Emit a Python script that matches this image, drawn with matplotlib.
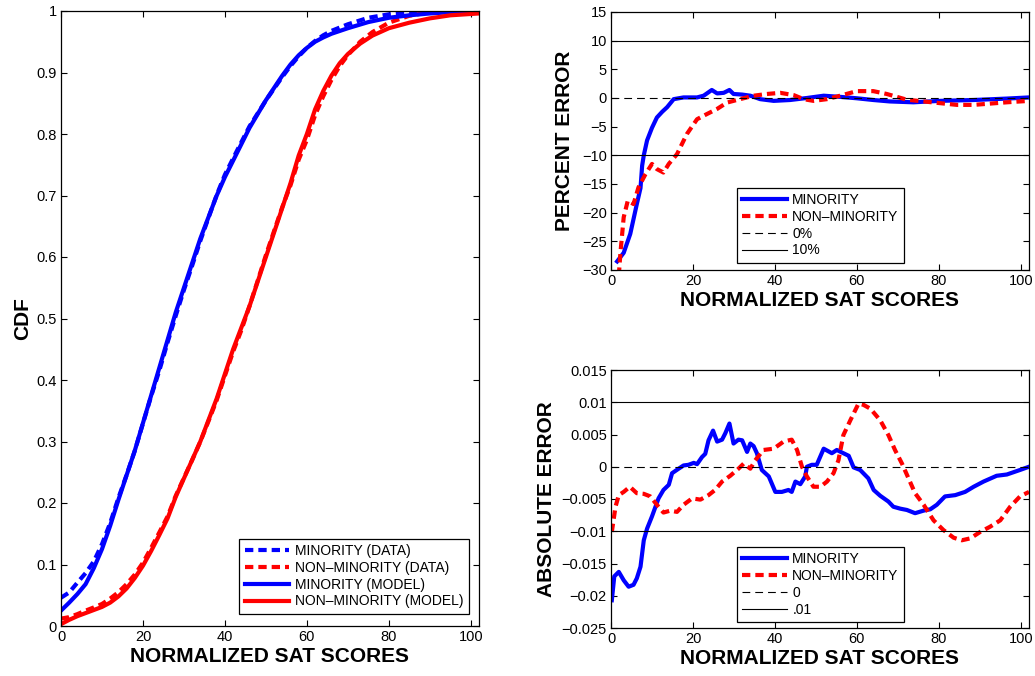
import matplotlib
matplotlib.use('Agg')
import matplotlib.pyplot as plt
from matplotlib.ticker import FuncFormatter

plt.rcParams['font.family'] = ['Liberation Sans', 'DejaVu Sans']
plt.rcParams['xtick.direction'] = 'in'
plt.rcParams['ytick.direction'] = 'in'
plt.rcParams['xtick.top'] = True
plt.rcParams['ytick.right'] = True
plt.rcParams['xtick.major.size'] = 4
plt.rcParams['ytick.major.size'] = 4
plt.rcParams['axes.linewidth'] = 0.9

# ---- CDF panel ----
min_model_x = [0, 2, 4, 6, 8, 10, 12, 14, 16, 18, 20, 22, 24, 26, 28, 30, 32, 34, 36, 38, 40,
               43, 46, 50, 54, 56, 58, 60, 62, 64, 66, 70, 75, 80, 85, 90, 95, 102]
min_model_y = [.025, .038, .052, .068, .094, .125, .163, .205, .245, .285, .33, .375, .42, .465,
               .51, .55, .59, .63, .665, .70, .73, .77, .81, .855, .895, .913, .928, .94, .95,
               .957, .963, .972, .982, .989, .993, .996, .998, 1.0]
min_data_y = [.046, .0545, .0705, .086, .105, .133, .1675, .208, .2455, .2847, .3294, .3737,
              .4155, .461, .5045, .5464, .5859, .6264, .664, .701, .7339, .7736, .8125, .8547,
              .8929, .9107, .9263, .9403, .9513, .9605, .9677, .9784, .989, .9946, .9972, .9986,
              .9993, 1.0]

non_model_x = [0, 2, 4, 6, 8, 10, 12, 14, 16, 18, 20, 22, 24, 26, 28, 30, 32, 34, 36, 38, 40,
               42, 44, 46, 48, 50, 52, 54, 56, 58, 60, 62, 64, 66, 68, 70, 73, 76, 80, 85, 90,
               95, 102]
non_model_y = [.003, .01, .016, .021, .026, .031, .038, .048, .061, .078, .098, .122, .148, .175,
               .21, .24, .27, .30, .335, .37, .41, .45, .485, .52, .56, .60, .64, .68, .72, .765,
               .80, .84, .87, .895, .915, .93, .947, .96, .972, .981, .988, .993, .996]
non_data_y = [.012, .0144, .0193, .025, .0302, .0358, .0446, .0549, .068, .0837, .1029, .1271,
              .1523, .1781, .2118, .2409, .2697, .2997, .3332, .3673, .4069, .4461, .4808, .5202,
              .5615, .6031, .6424, .6812, .7165, .7582, .7905, .8306, .8615, .8881, .9105, .9283,
              .95, .9657, .981, .9923, .9981, .9995, 1.0]

# ---- percent error panel ----
min_pct_x = [1.5, 3.1, 4.7, 6.3, 7.2, 7.6, 8.0, 8.8, 10, 11.2, 12.5, 13.7, 15.3, 17.7, 21, 22.6,
             24.6, 25.9, 27.5, 28.9, 29.9, 32, 34, 36.4, 39.7, 43.7, 47.8, 51.9, 55.9, 60, 64,
             68, 73.8, 80.3, 88.5, 96.6, 102]
min_pct_y = [-28.5, -27, -23.7, -18.5, -15.7, -11.8, -10, -7.4, -5.2, -3.4, -2.4, -1.6, -0.2,
             0.1, 0.1, 0.4, 1.4, 0.8, 0.9, 1.4, 0.7, 0.6, 0.4, -0.2, -0.5, -0.35, 0, 0.4, 0.2,
             -0.05, -0.35, -0.6, -0.75, -0.5, -0.35, -0.1, 0.1]
non_pct_x = [1.9, 2.3, 3.1, 4.1, 5.5, 6.7, 8.4, 10, 11.2, 12.8, 14.1, 16.1, 18.5, 21, 23.4, 25.9,
             28.3, 31.5, 34.8, 38, 41.3, 44.6, 47, 49.4, 52.7, 55.9, 60, 64, 67.3, 72.2, 76.3,
             80.3, 84.4, 88.5, 96.6, 102]
non_pct_y = [-31, -27, -20.8, -17.9, -18.5, -15.6, -13.3, -11.5, -12.4, -13, -11.5, -9.8, -6.3,
             -3.7, -2.8, -1.9, -0.8, -0.2, 0.4, 0.7, 0.9, 0.5, -0.2, -0.5, -0.2, 0.4, 1.2, 1.2,
             0.7, -0.3, -0.6, -0.9, -1.2, -1.2, -0.75, -0.5]

# ---- absolute error panel ----
min_abs_x = [0.2, 0.8, 1.9, 3.1, 4.3, 5.5, 6.3, 7.2, 8, 8.8, 10, 11.6, 12.8, 14.1, 14.9, 16.5,
             17.7, 18.9, 20.2, 21, 22.2, 23, 23.8, 24.9, 25.9, 27.1, 27.9, 28.9, 29.9, 31.1, 32,
             33.2, 34, 34.8, 35.6, 36.8, 38.5, 40.1, 41.7, 43.3, 44.1, 45, 46.2, 47.4, 47.8, 49,
             50.2, 51.9, 53.9, 55.1, 56.7, 58, 59.2, 60.8, 62.8, 64.1, 65.7, 67.7, 68.9, 70.6,
             72.2, 74.2, 76.3, 77.9, 79.5, 81.5, 84, 86.4, 88.5, 90.9, 94.1, 96.6, 99.8, 102]
min_abs_y = [-.0207, -.017, -.0163, -.0176, -.0186, -.0183, -.0173, -.0155, -.0114, -.0096,
             -.0077, -.0049, -.0036, -.0028, -.001, -.0003, .0002, .0003, .0006, .0004, .0015,
             .002, .0041, .0056, .0039, .0042, .0052, .0067, .0036, .0042, .0041, .0023, .0036,
             .0032, .0021, -.0005, -.0015, -.0039, -.0039, -.0036, -.0039, -.0023, -.0027,
             -.0015, 0, .0003, .0003, .0028, .0021, .0026, .0021, .0017, -.0001, -.0005, -.0018,
             -.0036, -.0045, -.0054, -.0062, -.0065, -.0067, -.0072, -.0068, -.0066, -.0059,
             -.0046, -.0044, -.0039, -.0031, -.0023, -.0014, -.0012, -.0005, 0]
non_abs_x = [0.2, 1.1, 1.9, 3.1, 4.6, 6.3, 8, 9.6, 11.2, 12.8, 14.5, 16.1, 17.7, 19.8, 21.8, 23.8,
             25.4, 27.1, 29.1, 31.1, 32.4, 34, 35.2, 37.2, 39.7, 42.1, 44.1, 45.4, 46.6, 47.8,
             49.4, 51.1, 52.7, 54.3, 55.5, 56.7, 58.4, 60.4, 61.6, 63.3, 65.7, 67.7, 69.3, 71,
             72.6, 74.2, 76.3, 78.7, 81.1, 83.6, 85.6, 87.7, 90.1, 92.5, 95, 97.4, 99.8, 102]
non_abs_y = [-.0101, -.0062, -.0044, -.0039, -.0031, -.0041, -.0042, -.0046, -.0059, -.0071,
             -.0068, -.007, -.0059, -.0049, -.0051, -.0044, -.0036, -.0023, -.0014, -.0003,
             .0005, -.0003, .001, .0026, .0028, .0039, .0042, .0026, 0, -.0015, -.0031, -.0031,
             -.0023, -.001, .001, .0049, .0072, .0098, .0096, .009, .0072, .0049, .0026, .0005,
             -.0018, -.0041, -.0059, -.0083, -.0098, -.011, -.0114, -.0111, -.0101, -.0093,
             -.0083, -.0062, -.0046, -.0039]

BLUE = '#0000ff'
RED = '#ff0000'
LW = 3
DASH = (2, 1.2)
REF_DASH = (7, 4.5)
LABEL_FONT = dict(fontsize=15, fontweight='bold')


def fmt(v, pos):
    s = '%g' % round(v, 6)
    return s.replace('-', '\u2212')


def style_axes(ax):
    ax.xaxis.set_major_formatter(FuncFormatter(fmt))
    ax.yaxis.set_major_formatter(FuncFormatter(fmt))
    ax.tick_params(labelsize=10.5, pad=3)
    ax.set_xlim(0, 102)
    ax.set_xticks([0, 20, 40, 60, 80, 100])


def make_legend(ax, anchor, loc):
    leg = ax.legend(loc=loc, bbox_to_anchor=anchor, borderaxespad=0, fontsize=10,
                    handlelength=3.2, handletextpad=0.4, labelspacing=0.2, borderpad=0.4,
                    fancybox=False, framealpha=1, edgecolor='black')
    leg.get_frame().set_linewidth(0.9)
    return leg


fig = plt.figure(figsize=(10.35, 6.76), dpi=100)

# left: CDF
ax1 = fig.add_axes([61 / 1035, 1 - 626 / 676, 418 / 1035, 615 / 676])
ax1.plot(min_model_x, min_data_y, color=BLUE, lw=LW, dashes=DASH, label='MINORITY (DATA)')
ax1.plot(non_model_x, non_data_y, color=RED, lw=LW, dashes=DASH, label='NON\u2013MINORITY (DATA)')
ax1.plot(min_model_x, min_model_y, color=BLUE, lw=LW, label='MINORITY (MODEL)')
ax1.plot(non_model_x, non_model_y, color=RED, lw=LW, label='NON\u2013MINORITY (MODEL)')
style_axes(ax1)
ax1.set_ylim(0, 1)
ax1.set_yticks([i / 10 for i in range(11)])
ax1.set_xlabel('NORMALIZED SAT SCORES', labelpad=2, **LABEL_FONT)
ax1.set_ylabel('CDF', labelpad=3, **LABEL_FONT)
make_legend(ax1, (0.976, 0.0195), 'lower right')

# top right: percent error
ax2 = fig.add_axes([611 / 1035, 1 - 270 / 676, 418 / 1035, 258 / 676])
ax2.plot(min_pct_x, min_pct_y, color=BLUE, lw=LW, label='MINORITY')
ax2.plot(non_pct_x, non_pct_y, color=RED, lw=LW, dashes=DASH, label='NON\u2013MINORITY')
ax2.axhline(0, color='black', lw=0.8, dashes=REF_DASH, label='0%')
ax2.axhline(10, color='black', lw=0.8, label='10%')
ax2.axhline(-10, color='black', lw=0.8)
style_axes(ax2)
ax2.set_ylim(-30, 15)
ax2.set_yticks(range(-30, 16, 5))
ax2.set_xlabel('NORMALIZED SAT SCORES', labelpad=2, **LABEL_FONT)
ax2.set_ylabel('PERCENT ERROR', labelpad=6, **LABEL_FONT)
make_legend(ax2, (0.301, 0.027), 'lower left')

# bottom right: absolute error
ax3 = fig.add_axes([611 / 1035, 1 - 628 / 676, 418 / 1035, 258 / 676])
ax3.plot(min_abs_x, min_abs_y, color=BLUE, lw=LW, label='MINORITY')
ax3.plot(non_abs_x, non_abs_y, color=RED, lw=LW, dashes=DASH, label='NON\u2013MINORITY')
ax3.axhline(0, color='black', lw=0.8, dashes=REF_DASH, label='0')
ax3.axhline(0.01, color='black', lw=0.8, label='.01')
ax3.axhline(-0.01, color='black', lw=0.8)
style_axes(ax3)
ax3.set_ylim(-0.025, 0.015)
ax3.set_yticks([-0.025, -0.02, -0.015, -0.01, -0.005, 0, 0.005, 0.01, 0.015])
ax3.set_xlabel('NORMALIZED SAT SCORES', labelpad=2, **LABEL_FONT)
ax3.set_ylabel('ABSOLUTE ERROR', labelpad=4, **LABEL_FONT)
make_legend(ax3, (0.301, 0.023), 'lower left')

fig.savefig('out.png', dpi=100)
